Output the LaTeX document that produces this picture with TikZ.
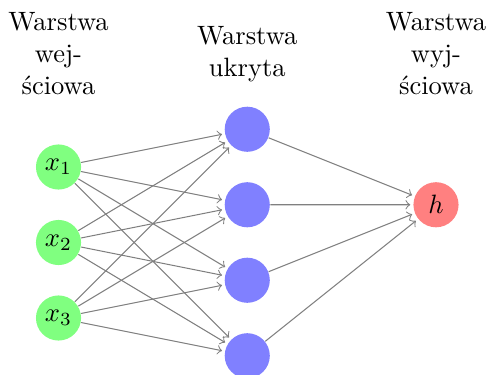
\documentclass[tikz,border=0pt]{standalone}
\usepackage{tikz}
\usepackage{xcolor}
\tikzstyle{neuron}=[
        circle,
        minimum size = 17pt,
        inner sep = 0pt
    ]
\tikzstyle{input neuron}=[neuron, fill = green!50]
\tikzstyle{hidden neuron}=[neuron, fill = blue!50]
\tikzstyle{output neuron}=[neuron, fill = red!50]
\tikzstyle{annot}=[align = center]
\tikzstyle{link}=[
    ->,
    draw = black!50,
    shorten >= 1pt
]

\begin{document}
\begin{tikzpicture}[node distance={10mm}]
        \useasboundingbox (-0.775,-2.742) rectangle (5.702,2.212);

        \node[input neuron] (i1) at (0,0) {$x_1$};
        \node[input neuron] (i2) [below of = i1] {$x_2$};
        \node[input neuron] (i3) [below of = i2] {$x_3$};

        \node[hidden neuron] (h1) at (2.5,0.5) {};
        \node[hidden neuron] (h2) [below of = h1] {};
        \node[hidden neuron] (h3) [below of = h2] {};
        \node[hidden neuron] (h4) [below of = h3] {};

        \node[output neuron] (o) at (5,-0.5) {$h$};

        \draw[link] (i1) -- (h1);
        \draw[link] (i1) -- (h2);
        \draw[link] (i1) -- (h3);
        \draw[link] (i1) -- (h4);
        \draw[link] (i2) -- (h1);
        \draw[link] (i2) -- (h2);
        \draw[link] (i2) -- (h3);
        \draw[link] (i2) -- (h4);
        \draw[link] (i3) -- (h1);
        \draw[link] (i3) -- (h2);
        \draw[link] (i3) -- (h3);
        \draw[link] (i3) -- (h4);

        \draw[link] (h1) -- (o);
        \draw[link] (h2) -- (o);
        \draw[link] (h3) -- (o);
        \draw[link] (h4) -- (o);

        \node[annot] (ah) [above of = h1] {Warstwa\\ukryta};
        \node[annot] (ai) [left of = ah, node distance = 25mm] {Warstwa\\wej-\\ściowa};
        \node[annot] (ao) [right of = ah, node distance = 25mm] {Warstwa\\wyj-\\ściowa};

    \end{tikzpicture}
\end{document}
